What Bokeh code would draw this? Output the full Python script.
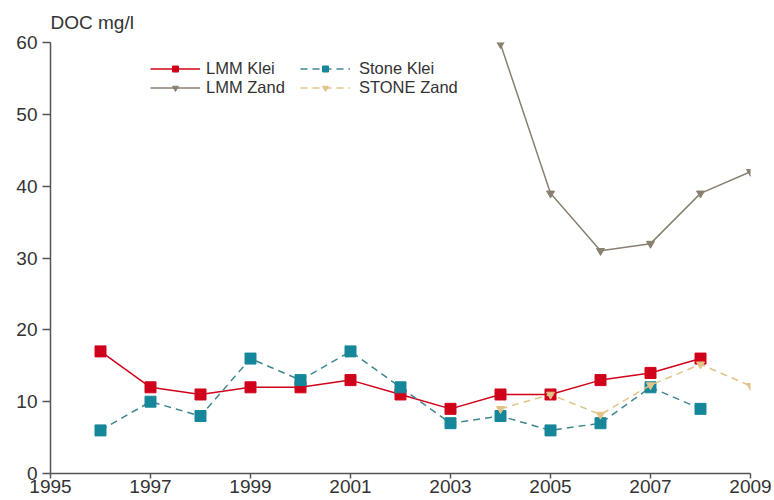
from bokeh.plotting import figure
from bokeh.models import Legend, LegendItem, FixedTicker, Range1d
from bokeh.embed import file_html
from bokeh.resources import INLINE

years_klei = [1996, 1997, 1998, 1999, 2000, 2001, 2002, 2003, 2004, 2005, 2006, 2007, 2008]
lmm_klei = [17, 12, 11, 12, 12, 13, 11, 9, 11, 11, 13, 14, 16]
stone_klei = [6, 10, 8, 16, 13, 17, 12, 7, 8, 6, 7, 12, 9]
years_zand = [2004, 2005, 2006, 2007, 2008, 2009]
lmm_zand = [59.8, 39, 31, 32, 39, 42]
stone_zand = [9, 11, 8.2, 12.3, 15.2, 12.2]
x_ticks = [1995, 1997, 1999, 2001, 2003, 2005, 2007, 2009]
y_ticks = [0, 10, 20, 30, 40, 50, 60]

FONT = "Liberation Sans"
RED = "#d0021b"
TEAL = "#16879a"
TEAL_LINE = "#3f8790"
GREY = "#8a8072"
TAN = "#e2c488"

p = figure(width=774, height=500, output_backend="svg", toolbar_location=None,
           x_range=Range1d(1995, 2009), y_range=Range1d(0, 60),
           min_border_left=50, min_border_right=24, min_border_top=42, min_border_bottom=27)
p.outline_line_color = None
p.xgrid.visible = False
p.ygrid.visible = False

p.title.text = "DOC mg/l"
p.title.text_font = FONT
p.title.text_font_size = "19px"
p.title.text_font_style = "normal"
p.title.text_color = "#333333"
p.title.align = "left"
p.title.standoff = 19

for ax in (p.xaxis[0], p.yaxis[0]):
    ax.axis_line_color = "#555555"
    ax.axis_line_width = 1.5
    ax.major_tick_line_color = "#555555"
    ax.major_tick_line_width = 1.5
    ax.major_tick_in = 0
    ax.minor_tick_line_color = None
    ax.major_label_text_font = FONT
    ax.major_label_text_font_size = "19px"
    ax.major_label_text_color = "#333333"
p.xaxis.major_tick_out = 5
p.xaxis.major_label_standoff = 1
p.yaxis.major_tick_out = 8
p.yaxis.major_label_standoff = 5
p.xaxis.ticker = FixedTicker(ticks=x_ticks)
p.yaxis.ticker = FixedTicker(ticks=y_ticks)

r1l = p.line(years_klei, lmm_klei, line_color=RED, line_width=1.5)
r1m = p.scatter(years_klei, lmm_klei, marker="square", size=11, fill_color=RED, line_color=RED)
r2l = p.line(years_zand, lmm_zand, line_color=GREY, line_width=1.5)
r2m = p.scatter(years_zand, lmm_zand, marker="inverted_triangle", size=8, fill_color=GREY, line_color=GREY)
r3l = p.line(years_klei, stone_klei, line_color=TEAL_LINE, line_width=1.5, line_dash="7 5")
r3m = p.scatter(years_klei, stone_klei, marker="square", size=11, fill_color=TEAL, line_color=TEAL)
r4l = p.line(years_zand, stone_zand, line_color=TAN, line_width=1.5, line_dash="7 5")
r4m = p.scatter(years_zand, stone_zand, marker="inverted_triangle", size=8, fill_color=TAN, line_color=TAN)

def make_legend(items, x, standoff):
    return Legend(items=items, location=(x, 376), orientation="vertical",
                  background_fill_alpha=0, border_line_color=None,
                  label_text_font=FONT, label_text_font_size="16.5px", label_text_color="#333333",
                  glyph_width=50, glyph_height=15, label_height=15, label_standoff=standoff,
                  spacing=0, padding=2, margin=0)

lg1 = make_legend([LegendItem(label="LMM Klei", renderers=[r1l, r1m]),
                   LegendItem(label="LMM Zand", renderers=[r2l, r2m])], 100, 6)
lg2 = make_legend([LegendItem(label="Stone Klei", renderers=[r3l, r3m]),
                   LegendItem(label="STONE Zand", renderers=[r4l, r4m])], 250, 9)
p.add_layout(lg1, "center")
p.add_layout(lg2, "center")

open("out.html", "w").write(file_html(p, INLINE))
